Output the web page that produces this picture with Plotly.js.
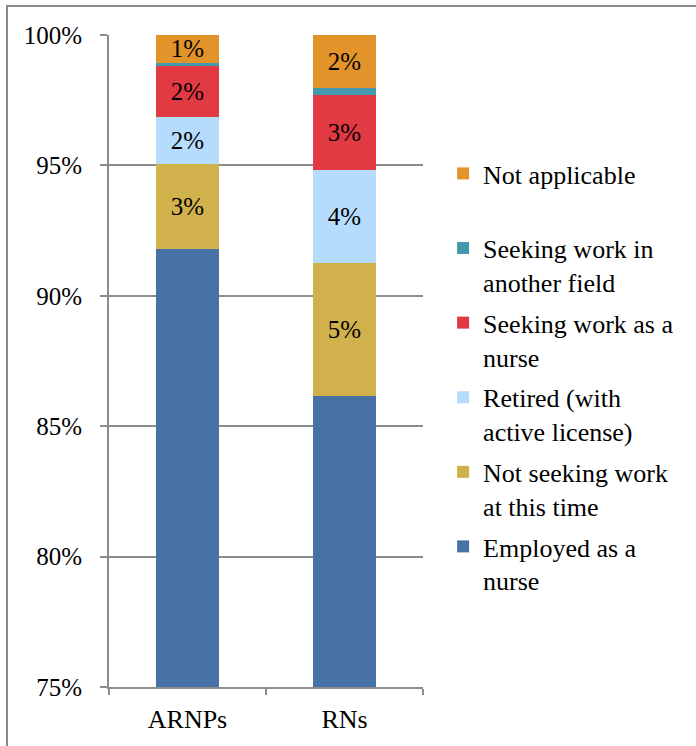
<!DOCTYPE html>
<html>
<head>
<meta charset="utf-8">
<script src="https://cdn.plot.ly/plotly-3.0.1.min.js"></script>
<style>
  html, body { margin: 0; padding: 0; background: #fff; }
  #wrap { position: relative; width: 696px; height: 746px; }
  #chart { width: 696px; height: 746px; }
  #bl { position: absolute; left: 6px; top: 5px; width: 2px; height: 741px; background: #8a8a8a; }
  #bt { position: absolute; left: 6px; top: 5px; width: 690px; height: 2px; background: #8a8a8a; }
</style>
</head>
<body>
<div id="wrap">
  <div id="chart"></div>
  <div id="bl"></div>
  <div id="bt"></div>
</div>
<script>
// Categories
var categories = ['ARNPs', 'RNs'];

// Series values (percent of respondents)
var employedAsNurse   = [91.78, 86.15];
var notSeekingWork    = [3.29, 5.12];
var retiredActive     = [1.77, 3.55];
var seekingWorkNurse  = [1.97, 2.88];
var seekingOtherField = [0.13, 0.26];
var notApplicable     = [1.06, 2.04];

// Data labels as printed on the chart
var employedLabels    = ['91%', '86%'];
var notSeekingLabels  = ['3%', '5%'];
var retiredLabels     = ['2%', '4%'];
var seekingNurseLabels= ['2%', '3%'];
var seekingOtherLabels= ['', ''];
var notApplicableLabels = ['1%', '2%'];

// Series names
var seriesNames = [
  'Employed as a<br>nurse',
  'Not seeking work<br>at this time',
  'Retired (with<br>active license)',
  'Seeking work as a<br>nurse',
  'Seeking work in<br>another field',
  'Not applicable<br>&nbsp;'
];

// Y tick values
var yTicks = [75, 80, 85, 90, 95, 100];
var yTickLabels = ['75%', '80%', '85%', '90%', '95%', '100%'];

var FONT = 'Liberation Serif, Times New Roman, Times, serif';
var colors = ['#4672a6', '#d1b14b', '#b6dcfd', '#e13a42', '#4499b0', '#e2942b'];

var seriesValues = [employedAsNurse, notSeekingWork, retiredActive, seekingWorkNurse, seekingOtherField, notApplicable];
var seriesLabels = [employedLabels, notSeekingLabels, retiredLabels, seekingNurseLabels, seekingOtherLabels, notApplicableLabels];

var traces = seriesValues.map(function (vals, i) {
  return {
    type: 'bar',
    name: seriesNames[i],
    x: categories,
    y: vals,
    text: seriesLabels[i],
    textposition: 'inside',
    insidetextanchor: 'middle',
    constraintext: 'none',
    textfont: { family: FONT, size: 25, color: '#000' },
    marker: { color: colors[i], line: { width: 0 } },
    legendgroup: 'g' + i,
    legendrank: 100 - i,
    hoverinfo: 'skip'
  };
});

var layout = {
  width: 696,
  height: 746,
  margin: { l: 109, r: 273, t: 35, b: 59, pad: 0 },
  paper_bgcolor: '#fff',
  plot_bgcolor: '#fff',
  barmode: 'stack',
  bargap: 0.6,
  font: { family: FONT, size: 25, color: '#000' },
  showlegend: true,
  legend: {
    x: 1.064, xanchor: 'left',
    y: 0.8236, yanchor: 'top',
    traceorder: 'grouped',
    valign: 'top',
    tracegroupgap: 4,
    font: { family: FONT, size: 26, color: '#000' },
    bgcolor: 'rgba(0,0,0,0)'
  },
  xaxis: {
    type: 'category',
    showline: true,
    linecolor: '#8c8c8c',
    linewidth: 2,
    ticks: 'outside',
    tickson: 'boundaries',
    ticklen: 6,
    tickcolor: '#8c8c8c',
    tickwidth: 2,
    showgrid: false,
    ticklabelstandoff: 8,
    tickfont: { family: FONT, size: 26, color: '#000' }
  },
  yaxis: {
    range: [75, 100],
    tickvals: yTicks,
    ticktext: yTickLabels,
    showline: true,
    linecolor: '#8c8c8c',
    linewidth: 2,
    ticks: 'outside',
    ticklen: 7,
    tickcolor: '#8c8c8c',
    tickwidth: 2,
    showgrid: true,
    gridcolor: '#8c8c8c',
    gridwidth: 2,
    zeroline: false,
    ticklabelstandoff: 13,
    tickfont: { family: FONT, size: 25, color: '#000' }
  }
};

Plotly.newPlot('chart', traces, layout, { displayModeBar: false, staticPlot: true });
</script>
</body>
</html>
